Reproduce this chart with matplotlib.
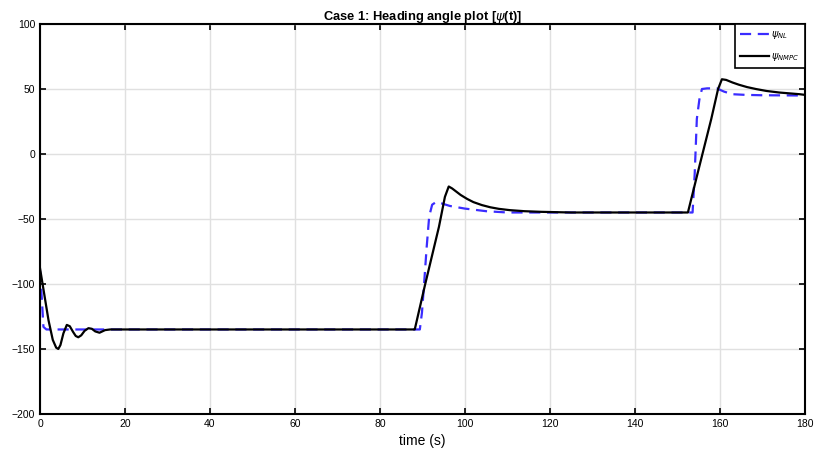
import numpy as np
import matplotlib.pyplot as plt

plt.rcParams['font.family'] = ['Liberation Sans', 'DejaVu Sans']

# reference (NL) heading
t_nl = [0, 0.4, 0.8, 1.5, 89.4, 89.9, 90.4, 91.0, 91.6, 92.3, 93.2, 94.5, 96.5, 100, 105, 110,
        153.6, 154.1, 154.6, 155.2, 155.8, 157, 159.3, 161, 163, 166, 170, 180]
psi_nl = [-90, -110, -133, -135, -135, -122, -100, -72, -48, -39, -37, -38, -40, -42, -44, -45,
          -45, -15, 27, 42, 50, 50.5, 50.5, 48, 46, 45.5, 45.2, 45]

# NMPC heading
t_mpc = [0, 1.0, 2.0, 3.0, 3.8, 4.3, 4.8, 5.5, 6.3, 7.0, 7.8, 8.4, 9.0, 9.7, 10.5, 11.4, 12.2, 13.0, 14.0,
         15.3, 16.5,
         88.2, 90.6, 93.9, 95.3, 96.2, 97, 98, 99, 100.5, 102, 104, 106, 108, 110.6, 114, 118, 125,
         152.5, 155, 158, 159.6, 160.5, 161.5, 163, 164.5, 166.4, 168.5, 171, 174, 178.8, 180]
psi_mpc = [-88, -108, -128, -143, -149, -150, -147, -138, -131.5, -132.5, -137, -140, -141, -139.5, -136,
           -134, -134.5, -136.5, -137.5, -135.5, -135,
           -135, -101, -56, -33, -25, -26.5, -29, -31.5, -34.5, -37, -39.3, -41, -42.2, -43.2, -44, -44.5, -45,
           -45, -12, 27, 50, 57.5, 57, 55, 53.3, 51.5, 50, 48.5, 47.3, 46, 45.5]

fig = plt.figure(figsize=(8.17, 4.62), dpi=100)
ax = fig.add_axes([0.049, 0.104, 0.936, 0.844])

ax.plot(t_nl, psi_nl, '--', color='#3a2cff', linewidth=1.6, dashes=(5, 3), label=r'$\psi_{NL}$')
ax.plot(t_mpc, psi_mpc, '-', color='black', linewidth=1.6, label=r'$\psi_{NMPC}$')

ax.set_xlim(0, 180)
ax.set_ylim(-200, 100)
ax.set_xticks(np.arange(0, 181, 20))
ax.set_yticks(np.arange(-200, 101, 50))
ax.grid(True, color='#e0e0e0', linewidth=1)
ax.tick_params(direction='in', length=4, width=1.2, labelsize=7.5, top=True, right=True)
for s in ax.spines.values():
    s.set_linewidth(1.5)

ax.set_title(r'Case 1: Heading angle plot [$\psi$(t)]', fontsize=9.3, fontweight='bold', pad=3)
ax.set_xlabel('time (s)', fontsize=10, labelpad=4)

leg = ax.legend(loc='upper right', borderaxespad=0, fancybox=False, fontsize=7,
                handlelength=3.0, handletextpad=0.2, labelspacing=1.0, borderpad=0.55,
                framealpha=1, edgecolor='black')
leg.get_frame().set_linewidth(1.2)

fig.savefig('out.png', dpi=100)
